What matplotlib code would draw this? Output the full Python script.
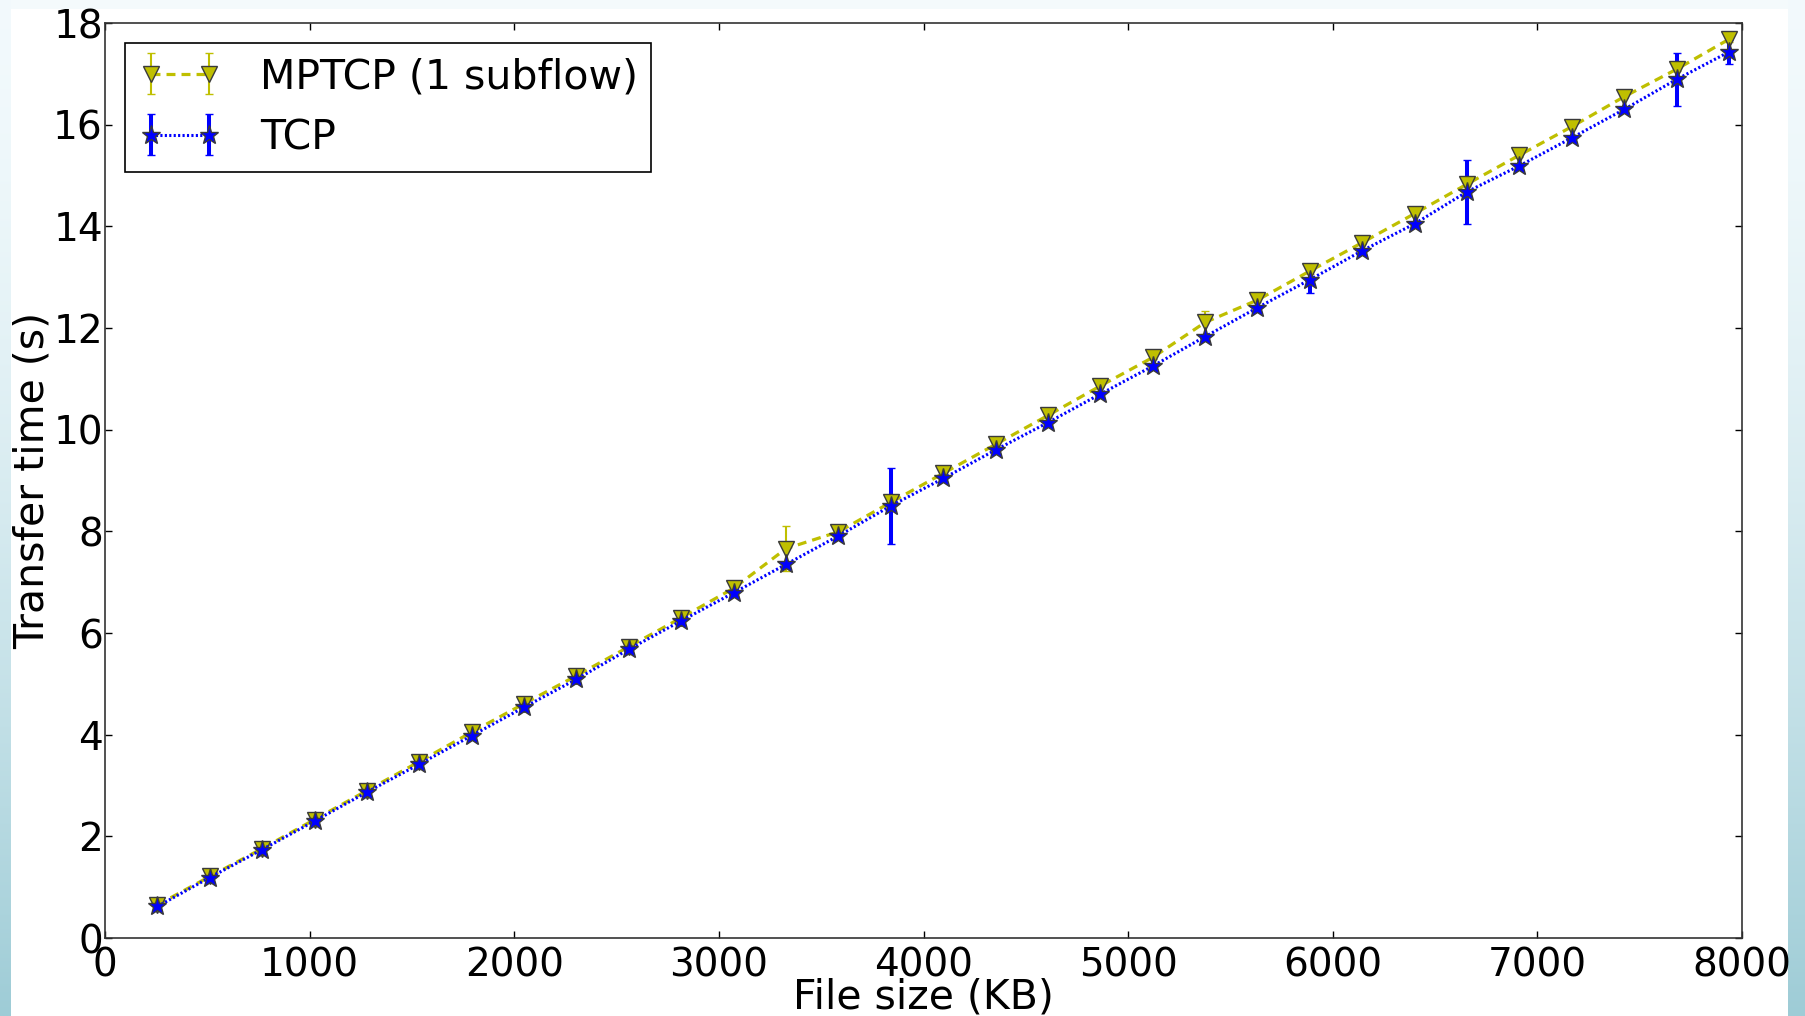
import numpy as np
import matplotlib
matplotlib.use("Agg")
import matplotlib.pyplot as plt

# File sizes (KB) and mean transfer times (s)
file_size_kb = [256, 512, 768, 1024, 1280, 1536, 1792, 2048, 2304, 2560,
                2816, 3072, 3328, 3584, 3840, 4096, 4352, 4608, 4864, 5120,
                5376, 5632, 5888, 6144, 6400, 6656, 6912, 7168, 7424, 7680,
                7936]

mptcp_time = [0.65, 1.21, 1.76, 2.33, 2.90, 3.47, 4.05, 4.61, 5.16, 5.73,
              6.30, 6.88, 7.66, 7.99, 8.57, 9.14, 9.71, 10.28, 10.86, 11.42,
              12.11, 12.55, 13.12, 13.68, 14.25, 14.83, 15.40, 15.96, 16.55, 17.09,
              17.68]
mptcp_err = [0.03, 0.03, 0.03, 0.03, 0.03, 0.03, 0.03, 0.03, 0.03, 0.03,
             0.03, 0.03, 0.44, 0.03, 0.03, 0.03, 0.03, 0.03, 0.03, 0.03,
             0.23, 0.03, 0.05, 0.03, 0.03, 0.03, 0.03, 0.03, 0.03, 0.03,
             0.05]

tcp_time = [0.62, 1.19, 1.74, 2.30, 2.87, 3.42, 3.98, 4.54, 5.09, 5.68,
            6.24, 6.79, 7.35, 7.91, 8.50, 9.04, 9.60, 10.14, 10.70, 11.25,
            11.83, 12.40, 12.95, 13.52, 14.05, 14.68, 15.19, 15.74, 16.30, 16.89,
            17.43]
tcp_err = [0.03, 0.03, 0.03, 0.03, 0.03, 0.03, 0.03, 0.03, 0.03, 0.03,
           0.03, 0.03, 0.03, 0.03, 0.75, 0.03, 0.03, 0.03, 0.03, 0.03,
           0.03, 0.03, 0.27, 0.03, 0.03, 0.63, 0.03, 0.03, 0.03, 0.52,
           0.23]

x_ticks = [0, 1000, 2000, 3000, 4000, 5000, 6000, 7000, 8000]
y_ticks = [0, 2, 4, 6, 8, 10, 12, 14, 16, 18]

W, H = 1805, 1016
plt.rcParams["font.family"] = ["DejaVu Sans"]
fig = plt.figure(figsize=(W / 100, H / 100), dpi=100)
fig.patch.set_facecolor("#f4fafc")

# Slide backdrop: pale frame, teal edge gradients and a white canvas
bg = fig.add_axes([0, 0, 1, 1], zorder=-10)
bg.set_xlim(0, W)
bg.set_ylim(H, 0)
bg.axis("off")
t = np.linspace(0, 1, 256)[:, None]
top_c = np.array([0.95, 0.98, 0.99])
bot_c = np.array([0.62, 0.80, 0.84])
grad = top_c + (bot_c - top_c) * (t ** 1.6)
grad = np.repeat(grad[:, None, :], 2, axis=1)
bg.imshow(grad, extent=[0, 11, H, 0], aspect="auto", interpolation="bilinear")
bg.imshow(grad, extent=[1788, W, H, 0], aspect="auto", interpolation="bilinear")
bg.add_patch(plt.Rectangle((11, 9), 1777, H - 9, facecolor="white", edgecolor="none"))

ax = fig.add_axes([105 / W, 1 - 938 / H, (1742 - 105) / W, (938 - 23) / H])
ax.set_facecolor("white")

ax.errorbar(file_size_kb, mptcp_time, yerr=mptcp_err, fmt="v--", color="#bfbf00",
            ecolor="#bfbf00", elinewidth=1.5, capsize=2.6, capthick=1.1,
            lw=2.3, ms=11.5, mec="#3a3a3a", mew=1.0, dashes=(2.8, 1.9),
            label="MPTCP (1 subflow)")
ax.errorbar(file_size_kb, tcp_time, yerr=tcp_err, fmt="*:", color="#0000ff",
            ecolor="#0000ff", elinewidth=2.9, capsize=2.6, capthick=1.1,
            lw=2.2, ms=14, mec="#3a3a3a", mew=1.0, dashes=(0.7, 0.75),
            label="TCP")

ax.set_xlim(0, 8000)
ax.set_ylim(0, 18)
ax.set_xticks(x_ticks)
ax.set_yticks(y_ticks)
ax.tick_params(direction="in", length=5, width=1, top=True, right=True,
               labelsize=28, colors="black")
ax.tick_params(axis="x", pad=6)
ax.tick_params(axis="y", pad=1.5)
for s in ax.spines.values():
    s.set_linewidth(1.2)
    s.set_color("#333333")

ax.set_xlabel("File size (KB)", fontsize=29.5, labelpad=-5)
ax.set_ylabel("Transfer time (s)", fontsize=29.5)
ax.yaxis.set_label_coords(-0.0317, 0.5)

leg = ax.legend(loc="upper left", numpoints=2, fontsize=29.5, fancybox=False,
                framealpha=1, edgecolor="black", handlelength=2.0,
                handletextpad=0.95, borderpad=0.33, labelspacing=0.52,
                borderaxespad=0.5)
leg.get_frame().set_linewidth(1.2)

fig.savefig("out.png", dpi=100, facecolor=fig.get_facecolor())
